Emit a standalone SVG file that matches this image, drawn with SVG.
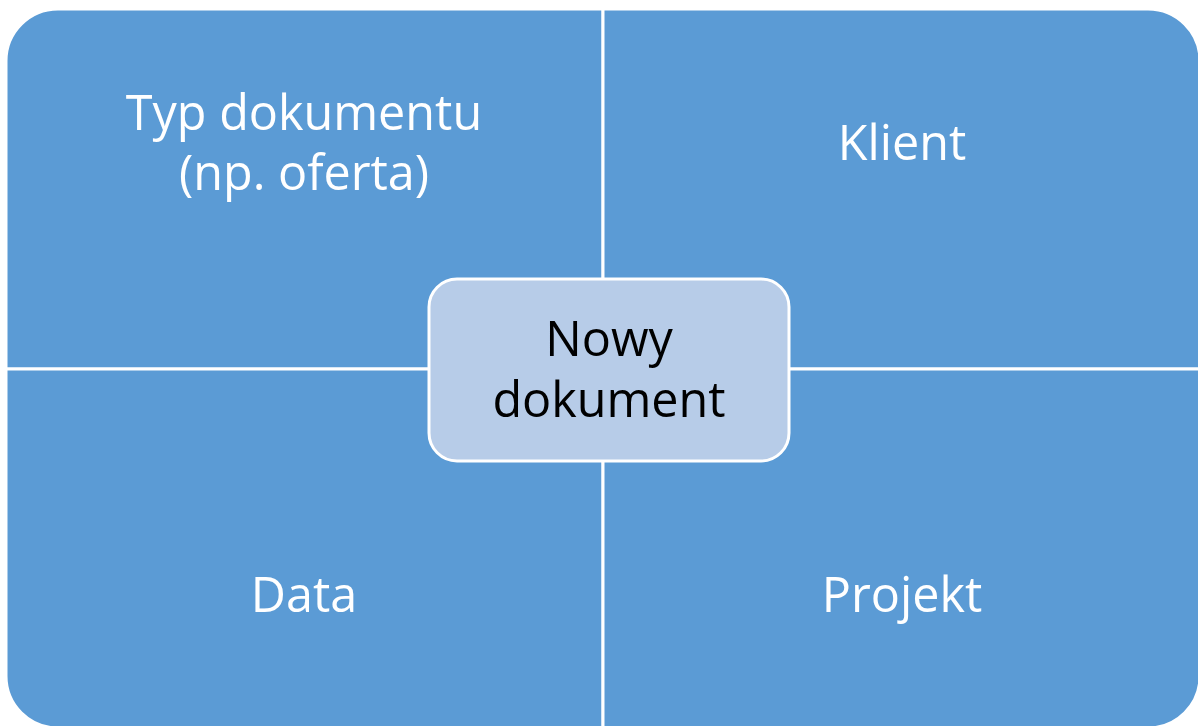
<svg xmlns="http://www.w3.org/2000/svg" width="1198" height="726" viewBox="0 0 1198 726">
<style>
.q{fill:#5B9BD5;stroke:#FFFFFF;stroke-width:3}
.c{fill:#B7CCE8;stroke:#FFFFFF;stroke-width:3}
.t{font-family:"Open Sans","Noto Sans",sans-serif;font-size:48.5px;text-anchor:middle;fill:#FFFFFF}
.tc{font-family:"Open Sans","Noto Sans",sans-serif;font-size:48.5px;text-anchor:middle;fill:#000000}
</style>
<rect width="1198" height="726" fill="#FFFFFF"/>
<g id="quadrant-tl">
<path class="q" d="M6,369 L6,61 A52,52 0 0 1 58,9 L603,9 L603,369 Z"/>
<text class="t" x="304" y="130">Typ dokumentu</text>
<text class="t" x="304" y="190">(np. oferta)</text>
</g>
<g id="quadrant-tr">
<path class="q" d="M603,9 L1148,9 A52,52 0 0 1 1200,61 L1200,369 L603,369 Z"/>
<text class="t" x="902" y="160">Klient</text>
</g>
<g id="quadrant-bl">
<path class="q" d="M6,369 L603,369 L603,728 L58,728 A52,52 0 0 1 6,676 Z"/>
<text class="t" x="304" y="612">Data</text>
</g>
<g id="quadrant-br">
<path class="q" d="M603,369 L1200,369 L1200,676 A52,52 0 0 1 1148,728 L603,728 Z"/>
<text class="t" x="902" y="612">Projekt</text>
</g>
<g id="connectors"></g>
<g id="center">
<rect class="c" x="429" y="279" width="360" height="182" rx="28" ry="28"/>
<text class="tc" x="609" y="356">Nowy</text>
<text class="tc" x="609" y="417">dokument</text>
</g>
</svg>
